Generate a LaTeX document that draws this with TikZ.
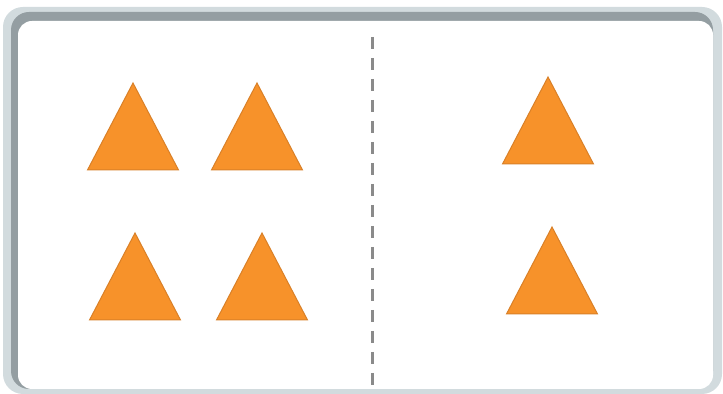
\documentclass[tikz,border=0pt]{standalone}
\usepackage{tikz}

\definecolor{triorange}{HTML}{F7922A}
\definecolor{triedge}{HTML}{D98028}
\definecolor{framelight}{HTML}{D2DBDE}
\definecolor{frameshade}{HTML}{949EA2}
\definecolor{splitgray}{HTML}{8A8A8A}

\begin{document}
\begin{tikzpicture}[x=0.5pt, y=-0.5pt,
  tri/.style={fill=triorange, draw=triedge, line width=0.5pt, line join=miter},
  split/.style={draw=splitgray, line width=1.5pt, dash pattern=on 6pt off 4.5pt}]
\useasboundingbox (0,0) rectangle (723,394);
% frame
\fill[framelight, rounded corners=10] (3,7) rectangle (722,394);
\fill[frameshade, rounded corners=9] (11,12) rectangle (713,389);
\fill[white, rounded corners=7] (18,21) rectangle (713,389);
% dividing line
\coordinate (top) at (372,37);
\coordinate (bot) at (372,387);
\draw[split] (top) -- (bot);
% triangles, given by apex
\foreach \x/\y in {133/83, 257/83, 135/233, 262/233, 548/77, 552/227}
  \draw[tri] (\x,\y) -- ++(45.5,87) -- ++(-91,0) -- cycle;
\end{tikzpicture}
\end{document}
